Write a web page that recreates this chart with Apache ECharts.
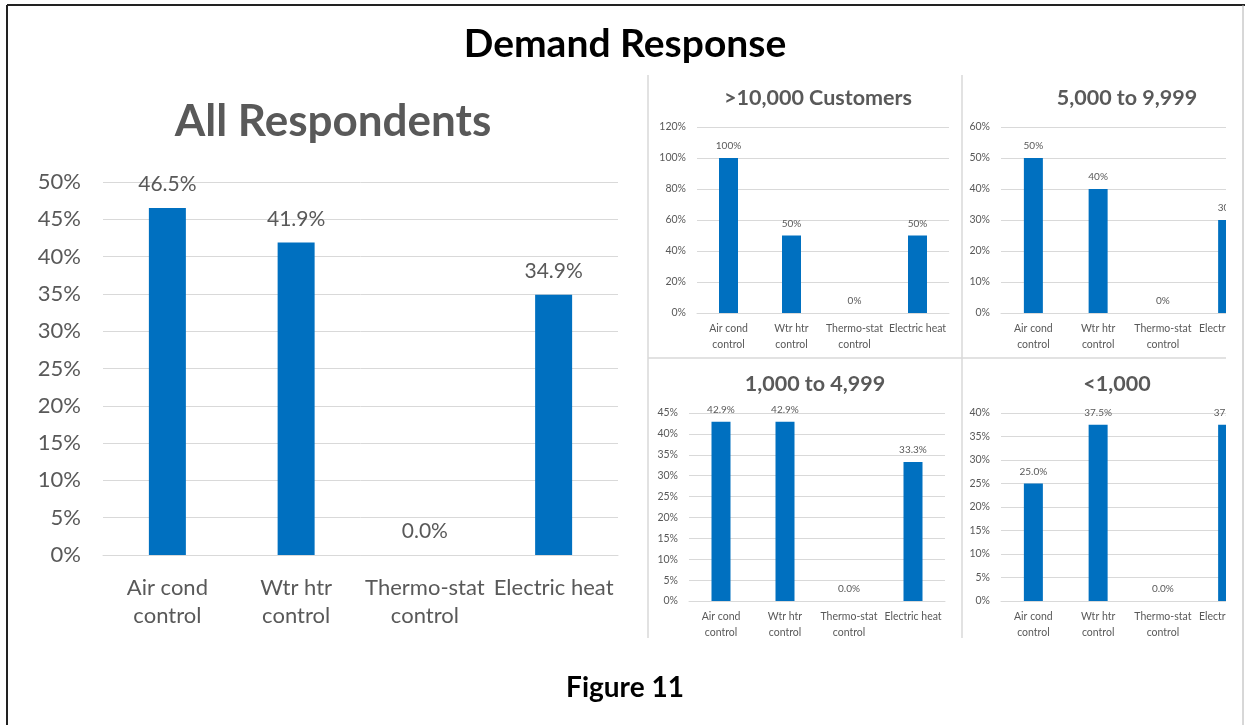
<!DOCTYPE html>
<html>
<head>
<meta charset="utf-8">
<script src="https://cdn.jsdelivr.net/npm/echarts@6/dist/echarts.min.js"></script>
<style>
html,body{margin:0;padding:0;background:#fff;overflow:hidden;width:1245px;height:725px;}
#chart{width:1280px;height:725px;}
</style>
</head>
<body>
<div id="chart"></div>
<script>
// ---- data ----
const categories = ['Air cond\ncontrol', 'Wtr htr\ncontrol', 'Thermo-stat\ncontrol', 'Electric heat'];
const allValues = [46.5, 41.9, 0.0, 34.9];
const over10kValues = [100, 50, 0, 50];
const from5kValues = [50, 40, 0, 30];
const from1kValues = [42.9, 42.9, 0.0, 33.3];
const under1kValues = [25.0, 37.5, 0.0, 37.5];
const panelTitles = ['All Respondents', '>10,000 Customers', '5,000 to 9,999', '1,000 to 4,999', '<1,000'];
const mainTitle = 'Demand Response';
const caption = 'Figure 11';

const FONT = 'Lato, "Noto Sans", sans-serif';
const GRAY = '#595959';
const BLUE = '#0070C0';
const GRID_LINE = '#d9d9d9';

const panels = [
  {values: allValues, max: 50, interval: 5, decimals: 1, grid: {left: 103, top: 182, width: 515, height: 373}, big: true, barWidth: 37},
  {values: over10kValues, max: 120, interval: 20, decimals: 0, grid: {left: 697, top: 127, width: 252, height: 186}, barWidth: 19},
  {values: from5kValues, max: 60, interval: 10, decimals: 0, grid: {left: 1001, top: 127, width: 259, height: 186}, barWidth: 19},
  {values: from1kValues, max: 45, interval: 5, decimals: 1, grid: {left: 689, top: 413, width: 256, height: 188}, barWidth: 19},
  {values: under1kValues, max: 40, interval: 5, decimals: 1, grid: {left: 1001, top: 413, width: 259, height: 188}, barWidth: 19}
];

const grids = [], xAxes = [], yAxes = [], series = [];
panels.forEach((p, i) => {
  const fs = p.big ? 22 : 10.5;
  grids.push(Object.assign({containLabel: false}, p.grid));
  xAxes.push({
    type: 'category', gridIndex: i, data: categories,
    axisLine: {show: true, lineStyle: {color: GRID_LINE, width: 1}},
    axisTick: {show: false},
    axisLabel: {color: GRAY, fontSize: fs, fontFamily: FONT, lineHeight: p.big ? 28 : 16, margin: p.big ? 19 : 8, interval: 0}
  });
  yAxes.push({
    type: 'value', gridIndex: i, min: 0, max: p.max, interval: p.interval,
    axisLine: {show: false}, axisTick: {show: false},
    splitLine: {lineStyle: {color: GRID_LINE, width: 1}},
    axisLabel: {color: GRAY, fontSize: fs, fontFamily: FONT, formatter: '{value}%', margin: p.big ? 22 : 11}
  });
  series.push({
    type: 'bar', xAxisIndex: i, yAxisIndex: i, data: p.values,
    barWidth: p.barWidth,
    itemStyle: {color: BLUE},
    label: {show: true, position: 'top', distance: p.big ? 13 : 7, color: GRAY, fontSize: p.big ? 21 : 10, fontFamily: FONT,
      formatter: (d) => d.value.toFixed(p.decimals) + '%'},
    animation: false
  });
});

const text = (t, x, y, size, color) => ({
  type: 'text', z: 120,
  style: {text: t, x: x, y: y, fill: color, font: 'bold ' + size + 'px ' + FONT, textAlign: 'center', textVerticalAlign: 'middle'}
});
const line = (x1, y1, x2, y2, color, w) => ({
  type: 'line', z: 110, shape: {x1, y1, x2, y2}, style: {stroke: color, lineWidth: w}
});

const graphic = [
  // mask for clipped right-hand panels
  {type: 'rect', z: 100, shape: {x: 1226, y: 70, width: 60, height: 580}, style: {fill: '#fff'}},
  // outer frame
  line(7, 5, 1280, 5, '#222', 2),
  line(7, 5, 7, 725, '#222', 2),
  line(1243, 5, 1243, 725, '#b0b0b0', 1),
  // panel separators
  line(648, 75, 648, 638, GRID_LINE, 1.5),
  line(962, 75, 962, 638, GRID_LINE, 1.5),
  line(648, 358, 1226, 358, GRID_LINE, 1.5),
  // titles
  text(mainTitle, 625, 44, 39, '#000'),
  text(panelTitles[0], 333, 122, 44, GRAY),
  text(panelTitles[1], 818, 98, 21.5, GRAY),
  text(panelTitles[2], 1127, 98, 21.5, GRAY),
  text(panelTitles[3], 815, 384, 21.5, GRAY),
  text(panelTitles[4], 1117, 384, 21.5, GRAY),
  text(caption, 625, 688, 28, '#000')
];

const chart = echarts.init(document.getElementById('chart'), null, {renderer: 'canvas'});
chart.setOption({
  animation: false,
  backgroundColor: '#fff',
  grid: grids, xAxis: xAxes, yAxis: yAxes, series: series,
  graphic: graphic
});
</script>
</body>
</html>
